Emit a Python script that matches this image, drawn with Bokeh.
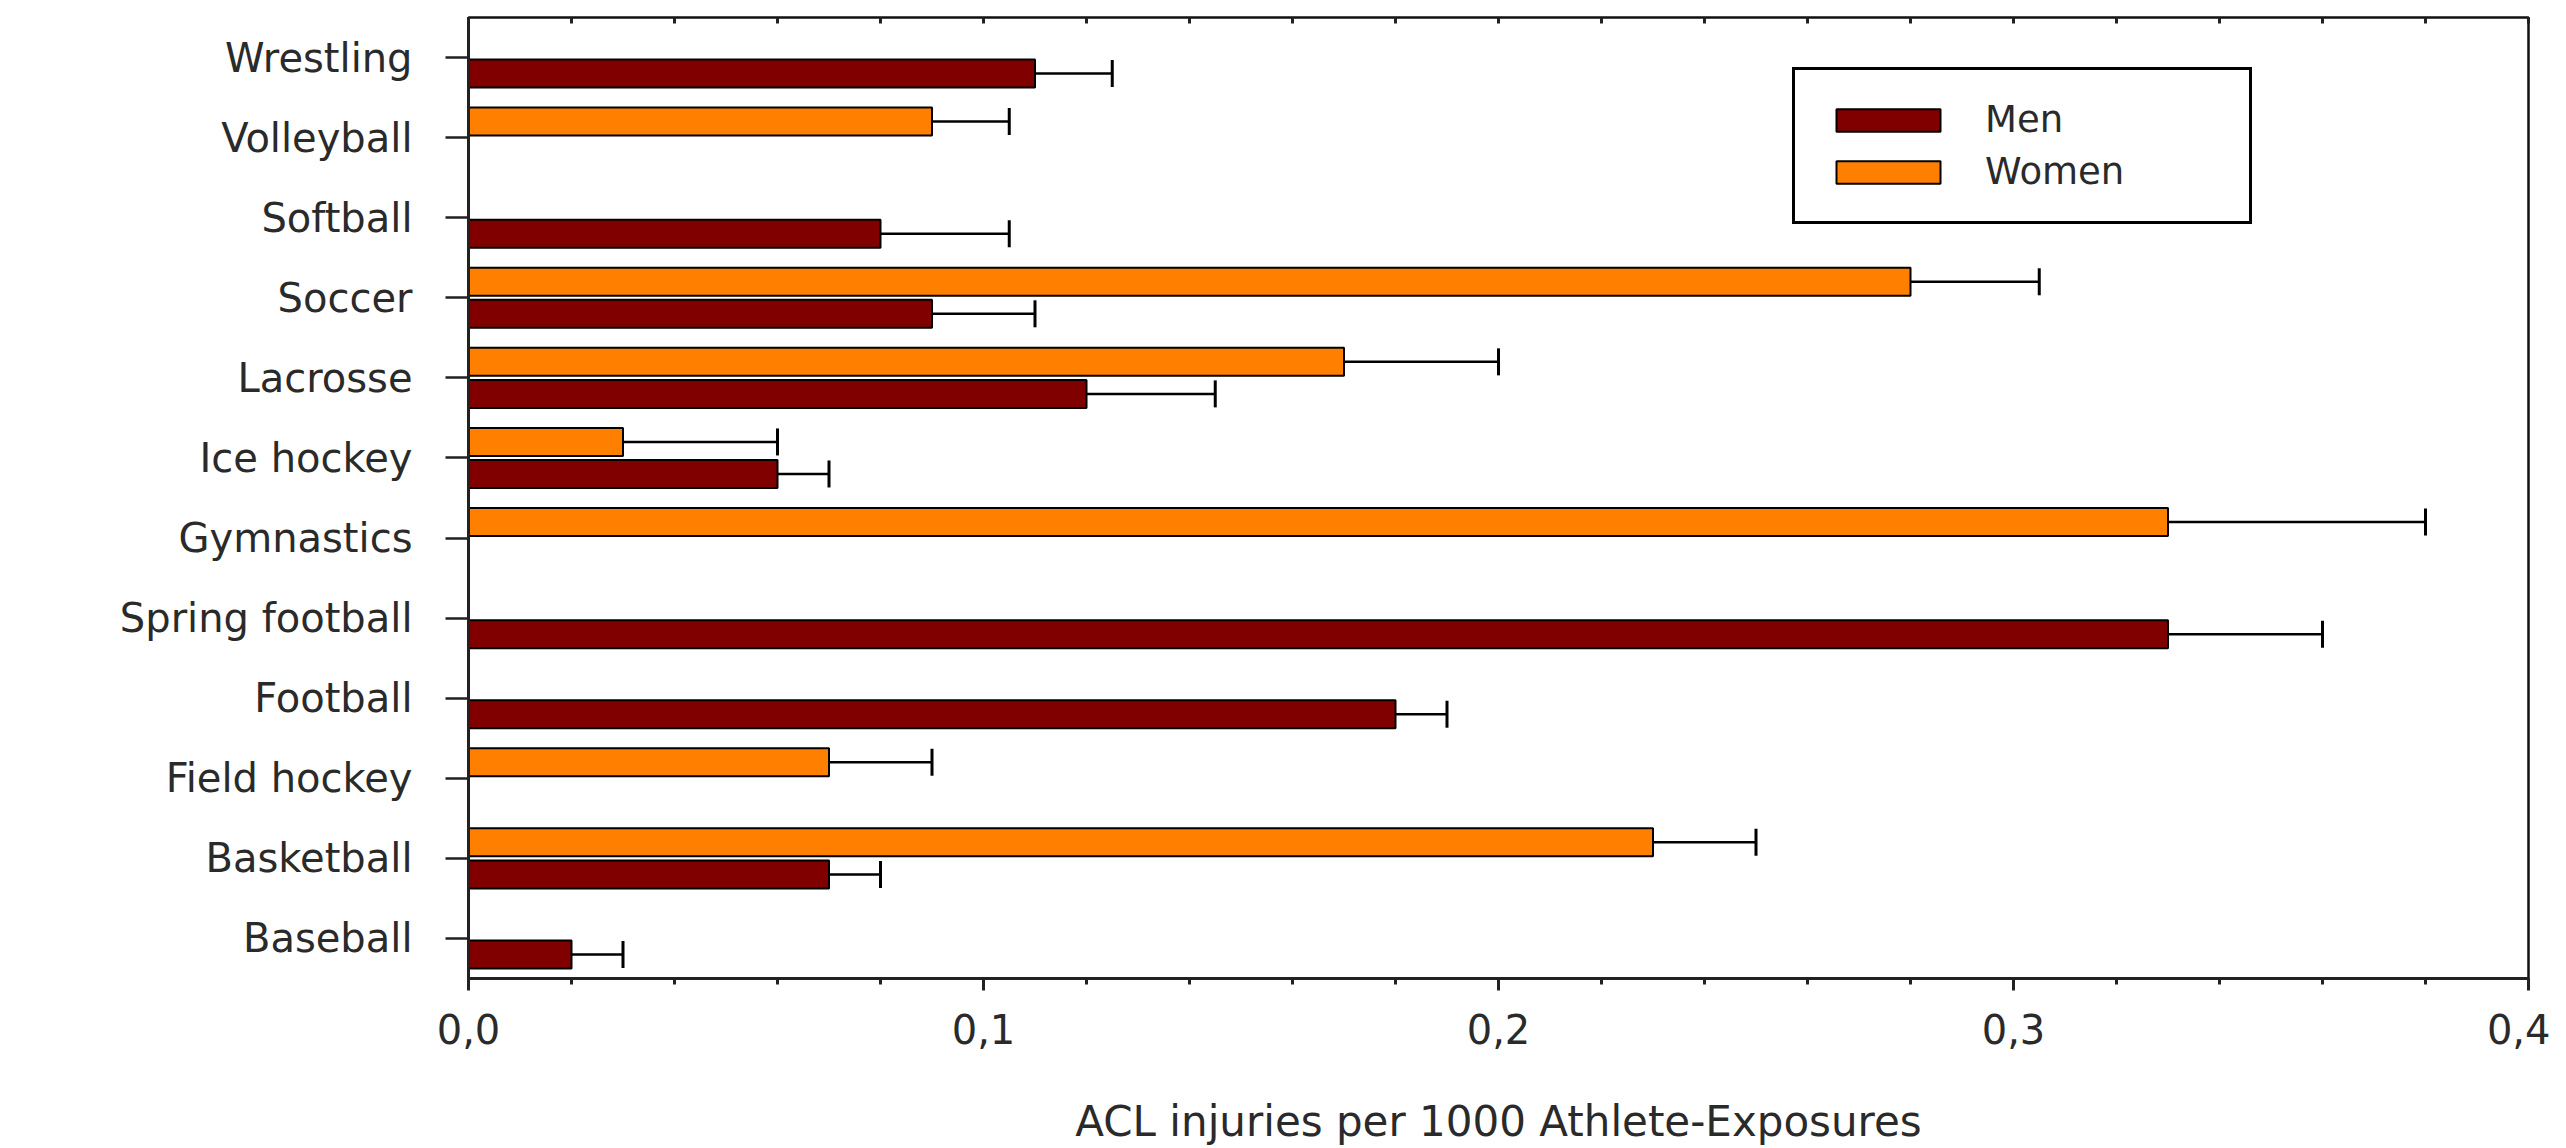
from bokeh.plotting import figure
from bokeh.models import (ColumnDataSource, FactorRange, Range1d, SingleIntervalTicker,
                          LinearAxis, CustomJSTickFormatter, Whisker, TeeHead, Legend, LegendItem)
from bokeh.transform import dodge
from bokeh.embed import file_html
from bokeh.resources import INLINE

sports = ["Baseball", "Basketball", "Field hockey", "Football", "Spring football",
          "Gymnastics", "Ice hockey", "Lacrosse", "Soccer", "Softball",
          "Volleyball", "Wrestling"]

men_sports = ["Baseball", "Basketball", "Football", "Spring football", "Ice hockey",
              "Lacrosse", "Soccer", "Softball", "Wrestling"]
men_rate = [0.02, 0.07, 0.18, 0.33, 0.06, 0.12, 0.09, 0.08, 0.11]
men_upper = [0.03, 0.08, 0.19, 0.36, 0.07, 0.145, 0.11, 0.105, 0.125]

women_sports = ["Basketball", "Field hockey", "Gymnastics", "Ice hockey",
                "Lacrosse", "Soccer", "Volleyball"]
women_rate = [0.23, 0.07, 0.33, 0.03, 0.17, 0.28, 0.09]
women_upper = [0.25, 0.09, 0.38, 0.06, 0.20, 0.305, 0.105]

x_title = "ACL injuries per 1000 Athlete-Exposures"
MEN_COLOR = "#800000"
WOMEN_COLOR = "#FF8000"
FONT = "DejaVu Sans"
TXT = "#2a2a2a"

men_src = ColumnDataSource(dict(sport=men_sports, rate=men_rate, upper=men_upper))
women_src = ColumnDataSource(dict(sport=women_sports, rate=women_rate, upper=women_upper))

p = figure(width=2550, height=1148, output_backend="svg", toolbar_location=None,
           y_range=FactorRange(factors=sports, range_padding=0.0),
           x_range=Range1d(0, 0.4),
           min_border_left=468, min_border_right=22, min_border_top=17, min_border_bottom=168)

p.background_fill_color = "white"
p.border_fill_color = "white"
p.outline_line_color = "#111111"
p.outline_line_width = 2.5
p.xgrid.visible = False
p.ygrid.visible = False

BAR_H = 0.35
OFF = 0.2

rm = p.hbar(y=dodge("sport", -OFF, range=p.y_range), left=0, right="rate", height=BAR_H,
            source=men_src, fill_color=MEN_COLOR, line_color="black", line_width=2)
rw = p.hbar(y=dodge("sport", OFF, range=p.y_range), left=0, right="rate", height=BAR_H,
            source=women_src, fill_color=WOMEN_COLOR, line_color="black", line_width=2)

for src, off in ((men_src, -OFF), (women_src, OFF)):
    w = Whisker(source=src, base=dodge("sport", off, range=p.y_range), lower="rate", upper="upper",
                dimension="width", line_color="black", line_width=2.5,
                upper_head=TeeHead(size=27, line_color="black", line_width=3),
                lower_head=None)
    p.add_layout(w)

# bottom axis
xa = p.xaxis[0]
xa.ticker = SingleIntervalTicker(interval=0.1, num_minor_ticks=5)
xa.formatter = CustomJSTickFormatter(code="return tick.toFixed(1).replace('.', ',');")
xa.major_tick_out = 12
xa.major_tick_in = 0
xa.minor_tick_out = 6
xa.minor_tick_in = 0
xa.axis_line_width = 3
xa.axis_line_color = "#222222"
xa.major_tick_line_width = 3
xa.minor_tick_line_width = 3
xa.major_tick_line_color = "#222222"
xa.minor_tick_line_color = "#222222"
xa.major_label_text_font = FONT
xa.major_label_text_font_size = "40px"
xa.major_label_text_color = TXT
xa.major_label_standoff = 23
xa.axis_label = x_title
xa.axis_label_text_font = FONT
xa.axis_label_text_font_size = "42px"
xa.axis_label_text_font_style = "normal"
xa.axis_label_text_color = TXT
xa.axis_label_standoff = 50

# left axis
ya = p.yaxis[0]
ya.major_tick_out = 23
ya.major_tick_in = 0
ya.axis_line_width = 3
ya.axis_line_color = "#222222"
ya.major_tick_line_width = 2.5
ya.major_tick_line_color = "#222222"
ya.major_label_text_font = FONT
ya.major_label_text_font_size = "40px"
ya.major_label_text_color = TXT
ya.major_label_standoff = 33

# top axis with small inward ticks, no labels
ta = LinearAxis(ticker=SingleIntervalTicker(interval=0.02, num_minor_ticks=0),
                formatter=CustomJSTickFormatter(code="return '';"),
                major_tick_in=6, major_tick_out=0, minor_tick_in=0, minor_tick_out=0,
                major_tick_line_width=3, major_tick_line_color="#222222",
                axis_line_color=None, major_label_text_font_size="1px",
                major_label_standoff=0)
p.add_layout(ta, "above")

legend = Legend(items=[LegendItem(label="Men", renderers=[rm]),
                       LegendItem(label="Women", renderers=[rw])],
                location=(1324, 754), orientation="vertical",
                glyph_width=130, glyph_height=28, label_standoff=32,
                label_width=236, label_height=28, spacing=9, padding=28, margin=0,
                border_line_color="#000000", border_line_width=3, border_line_alpha=1.0,
                background_fill_color="white", background_fill_alpha=1.0,
                label_text_font=FONT, label_text_font_size="37px", label_text_color=TXT)
p.add_layout(legend, "center")

open("out.html", "w").write(file_html(p, INLINE))
